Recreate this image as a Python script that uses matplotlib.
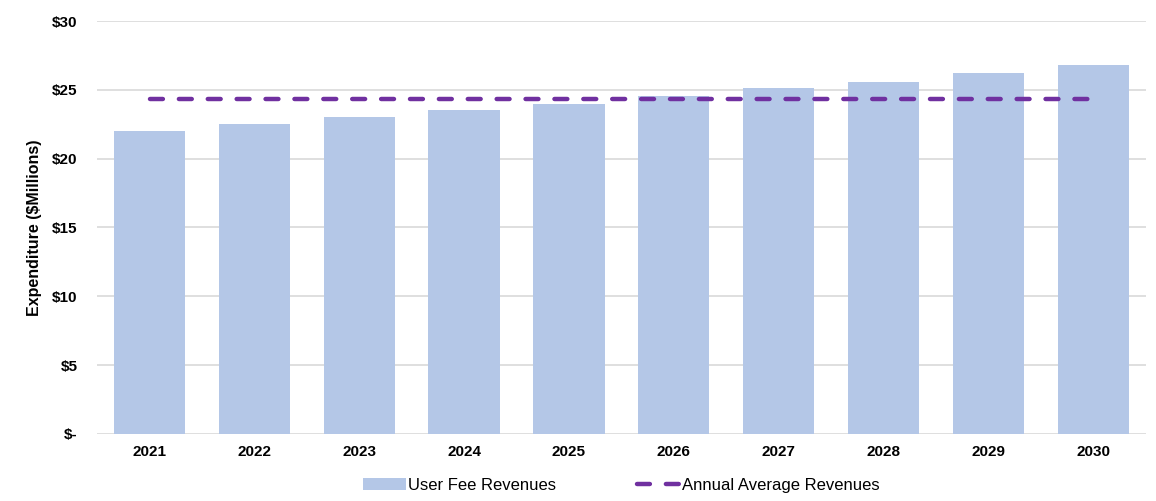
import numpy as np
import matplotlib
matplotlib.use("Agg")
import matplotlib.pyplot as plt

plt.rcParams["font.family"] = ["Liberation Sans", "DejaVu Sans"]

# --- data ---
YEARS = ["2021", "2022", "2023", "2024", "2025", "2026", "2027", "2028", "2029", "2030"]
USER_FEE = [22.0, 22.5, 23.0, 23.5, 24.0, 24.55, 25.1, 25.6, 26.2, 26.8]
ANNUAL_AVG = [24.3] * len(YEARS)
Y_TICKS = [0, 5, 10, 15, 20, 25, 30]
Y_LABELS = ["$-", "$5", "$10", "$15", "$20", "$25", "$30"]

BAR_COLOR = "#b4c7e7"
LINE_COLOR = "#7030a0"
GRID_COLOR = "#d9d9d9"

fig = plt.figure(figsize=(11.56, 5.01), dpi=100)
ax = fig.add_axes([0.084, 0.134, 0.907, 0.824])

x = np.arange(len(YEARS))
bars = ax.bar(x, USER_FEE, width=0.68, color=BAR_COLOR, label="User Fee Revenues", zorder=2)
line, = ax.plot(x, ANNUAL_AVG, color=LINE_COLOR, lw=3.2, dashes=(2.9, 3.6),
                dash_capstyle="round", label="Annual Average Revenues", zorder=3)

ax.set_xlim(-0.5, len(YEARS) - 0.5)
ax.set_ylim(0, 30)
ax.set_yticks(Y_TICKS)
ax.set_yticklabels(Y_LABELS)
ax.set_xticks(x)
ax.set_xticklabels(YEARS)
ax.tick_params(length=0, labelsize=11, pad=8)
ax.tick_params(axis="y", pad=14)
for lbl in ax.get_xticklabels() + ax.get_yticklabels():
    lbl.set_fontweight("bold")

ax.yaxis.grid(True, color=GRID_COLOR, lw=1.2, zorder=0)
ax.set_axisbelow(True)
for s in ax.spines.values():
    s.set_visible(False)

ax.set_ylabel("Expenditure ($Millions)", fontsize=11.5, fontweight="bold", labelpad=7)

ax.legend([bars, line], ["User Fee Revenues", "Annual Average Revenues"],
          loc="upper center", bbox_to_anchor=(0.5, -0.07), ncol=2, frameon=False,
          fontsize=12, columnspacing=4.9, handlelength=2.6, handletextpad=0.1)

plt.savefig("out.png", dpi=100)
